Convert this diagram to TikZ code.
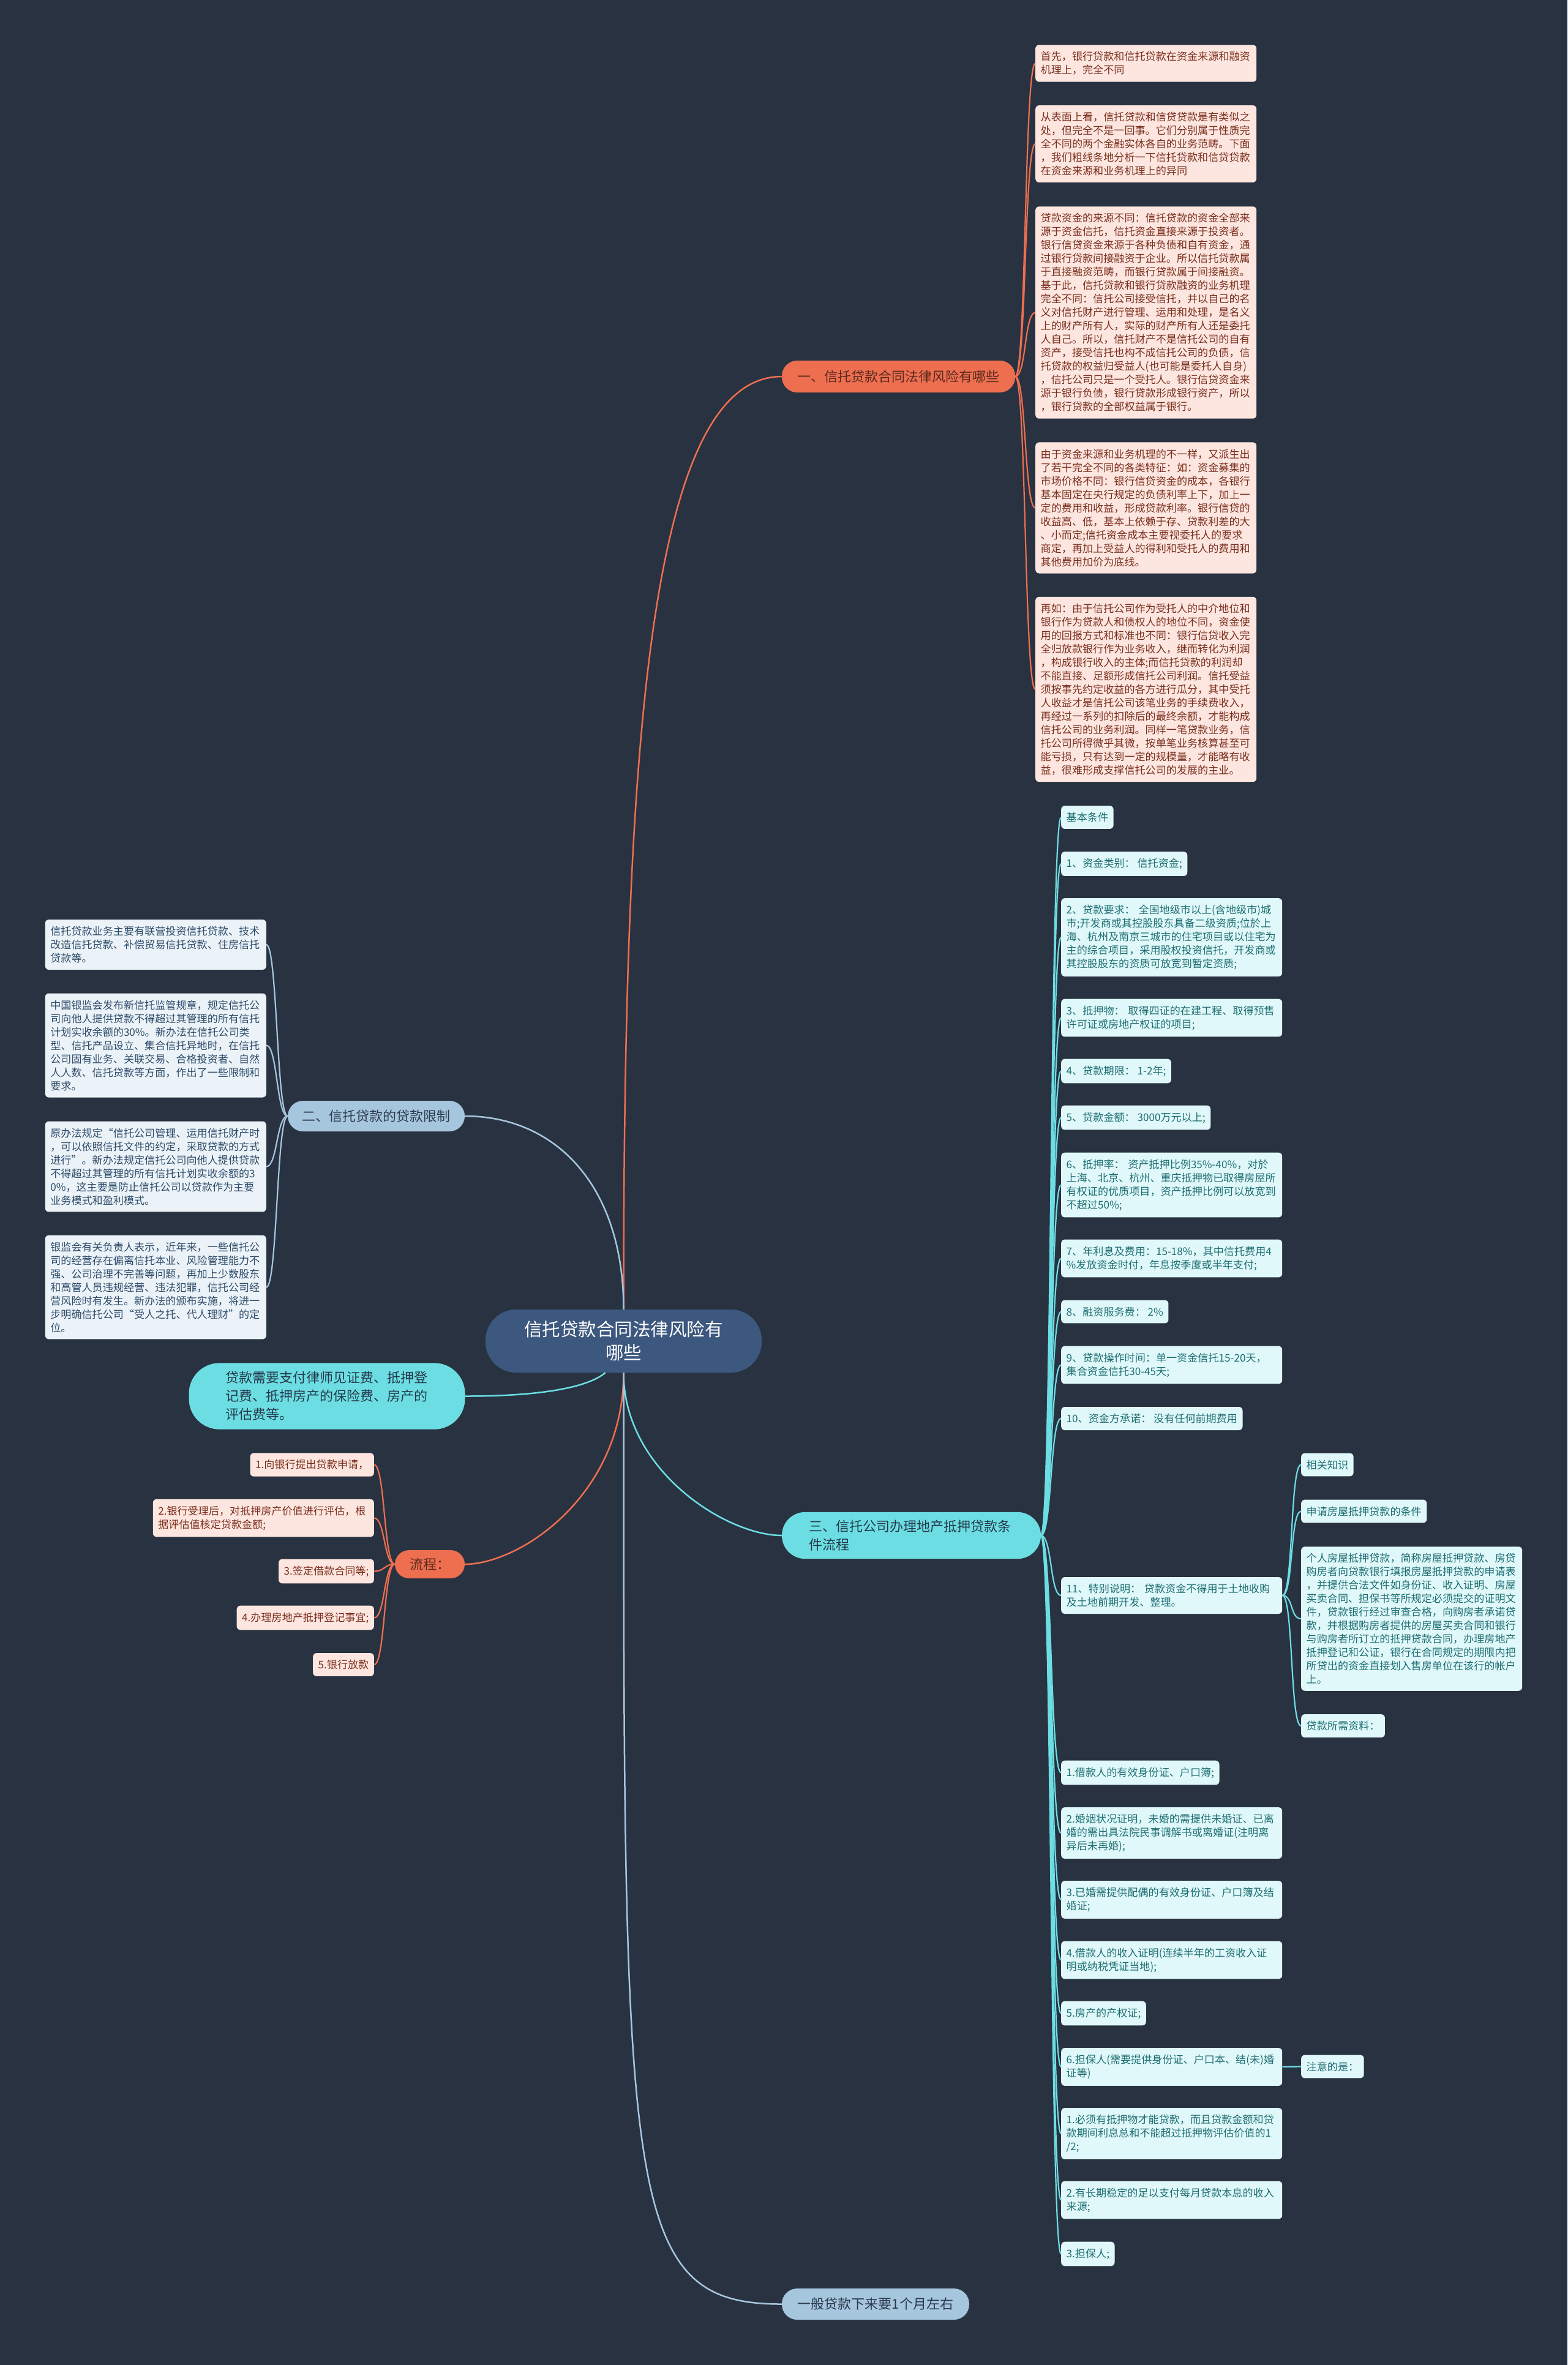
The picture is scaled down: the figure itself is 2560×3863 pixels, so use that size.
\documentclass[tikz,border=0pt]{standalone}
\usepackage{fontspec}
\usepackage{tikz}
\usetikzlibrary{positioning, calc}
\newfontfamily\cjk{Noto Sans CJK SC}
\definecolor{night}{HTML}{293241}
\definecolor{rootfill}{HTML}{3D587E}
\definecolor{coral}{HTML}{EE6F50}
\definecolor{coraltext}{HTML}{5A2A1E}
\definecolor{blush}{HTML}{FDE6E0}
\definecolor{blushtext}{HTML}{7A2E1C}
\definecolor{sky}{HTML}{A6C6DE}
\definecolor{skytext}{HTML}{2B3A4C}
\definecolor{mist}{HTML}{ECF3F8}
\definecolor{misttext}{HTML}{2D4B69}
\definecolor{aqua}{HTML}{6CDEE3}
\definecolor{aquatext}{HTML}{25394A}
\definecolor{foam}{HTML}{E0F8F9}
\definecolor{foamtext}{HTML}{1E6E73}
\newcommand{\leafsize}{\fontsize{17.1pt}{22pt}\selectfont}
\newcommand{\topicsize}{\fontsize{22pt}{30pt}\selectfont}

\begin{document}
\begin{tikzpicture}[x=1pt, y=-1pt, font=\cjk,
  root/.style={rectangle, rounded corners=50pt, fill=rootfill, text=white, align=center, minimum width=451pt, minimum height=103pt, font=\cjk\fontsize{29.5pt}{38pt}\selectfont},
  topic/.style={rectangle, rounded corners=25pt, inner xsep=0pt, align=center, minimum height=52pt, font=\cjk\topicsize},
  leaf/.style={rectangle, rounded corners=6pt, inner xsep=8.5pt, inner ysep=11pt, align=left, font=\cjk\leafsize},
  wide/.style={text width=344pt},
  leafA/.style={leaf, fill=blush, text=blushtext},
  leafB/.style={leaf, fill=mist, text=misttext},
  leafC/.style={leaf, fill=foam, text=foamtext},
  wireA/.style={draw=coral, line width=2.2pt},
  wireB/.style={draw=sky, line width=2.2pt},
  wireC/.style={draw=aqua, line width=2.2pt},
  twig/.style={to path={.. controls +(18,0) and +(-18,0) .. (\tikztotarget)}},
  twigL/.style={to path={.. controls +(-18,0) and +(18,0) .. (\tikztotarget)}}
]
  \fill[night] (0,0) rectangle (2560,3863);

  % centre and main topics
  \node[root] (hub) at (1018.5,2190.5) {信托贷款合同法律风险有\\哪些};
  \node[topic, fill=coral, text=coraltext, minimum width=381pt] (risk) at (1467.5,615) {一、信托贷款合同法律风险有哪些};
  \node[topic, fill=sky, text=skytext, minimum width=289pt, minimum height=50pt] (limit) at (614.5,1823) {二、信托贷款的贷款限制};
  \node[topic, fill=aqua, text=aquatext, align=left, text width=335pt, inner xsep=44pt, inner ysep=13pt, rounded corners=38pt] (flow) at (1488.5,2508) {三、信托公司办理地产抵押贷款条\\件流程};
  \node[topic, fill=aqua, text=aquatext, align=left, text width=331pt, inner xsep=60pt, inner ysep=14pt, rounded corners=50pt] (fees) at (534,2280.5) {贷款需要支付律师见证费、抵押登\\记费、抵押房产的保险费、房产的\\评估费等。};
  \node[topic, fill=coral, text=coraltext, minimum width=114pt, minimum height=46pt, rounded corners=23pt] (steps) at (702,2555) {流程：};
  \node[topic, fill=sky, text=skytext, minimum width=306pt, minimum height=51pt] (month) at (1430,3763.5) {一般贷款下来要1个月左右};

  % branch one
  \node[leafA, wide, anchor=west] (r1) at (1691,103.5) {首先，银行贷款和信托贷款在资金来源和融资\\机理上，完全不同};
  \node[leafA, wide, anchor=west] (r2) at (1691,235) {从表面上看，信托贷款和信贷贷款是有类似之\\处，但完全不是一回事。它们分别属于性质完\\全不同的两个金融实体各自的业务范畴。下面\\，我们粗线条地分析一下信托贷款和信贷贷款\\在资金来源和业务机理上的异同};
  \node[leafA, wide, anchor=west] (r3) at (1691,510.5) {贷款资金的来源不同：信托贷款的资金全部来\\源于资金信托，信托资金直接来源于投资者。\\银行信贷资金来源于各种负债和自有资金，通\\过银行贷款间接融资于企业。所以信托贷款属\\于直接融资范畴，而银行贷款属于间接融资。\\基于此，信托贷款和银行贷款融资的业务机理\\完全不同：信托公司接受信托，并以自己的名\\义对信托财产进行管理、运用和处理，是名义\\上的财产所有人，实际的财产所有人还是委托\\人自己。所以，信托财产不是信托公司的自有\\资产，接受信托也构不成信托公司的负债，信\\托贷款的权益归受益人(也可能是委托人自身)\\，信托公司只是一个受托人。银行信贷资金来\\源于银行负债，银行贷款形成银行资产，所以\\，银行贷款的全部权益属于银行。};
  \node[leafA, wide, anchor=west] (r4) at (1691,829.5) {由于资金来源和业务机理的不一样，又派生出\\了若干完全不同的各类特征：如：资金募集的\\市场价格不同：银行信贷资金的成本，各银行\\基本固定在央行规定的负债利率上下，加上一\\定的费用和收益，形成贷款利率。银行信贷的\\收益高、低，基本上依赖于存、贷款利差的大\\、小而定;信托资金成本主要视委托人的要求\\商定，再加上受益人的得利和受托人的费用和\\其他费用加价为底线。};
  \node[leafA, wide, anchor=west] (r5) at (1691,1126) {再如：由于信托公司作为受托人的中介地位和\\银行作为贷款人和债权人的地位不同，资金使\\用的回报方式和标准也不同：银行信贷收入完\\全归放款银行作为业务收入，继而转化为利润\\，构成银行收入的主体;而信托贷款的利润却\\不能直接、足额形成信托公司利润。信托受益\\须按事先约定收益的各方进行瓜分，其中受托\\人收益才是信托公司该笔业务的手续费收入，\\再经过一系列的扣除后的最终余额，才能构成\\信托公司的业务利润。同样一笔贷款业务，信\\托公司所得微乎其微，按单笔业务核算甚至可\\能亏损，只有达到一定的规模量，才能略有收\\益，很难形成支撑信托公司的发展的主业。};

  % branch two
  \node[leafB, wide, anchor=east] (l1) at (435,1543) {信托贷款业务主要有联营投资信托贷款、技术\\改造信托贷款、补偿贸易信托贷款、住房信托\\贷款等。};
  \node[leafB, wide, anchor=east] (l2) at (435,1707.5) {中国银监会发布新信托监管规章，规定信托公\\司向他人提供贷款不得超过其管理的所有信托\\计划实收余额的30\%。新办法在信托公司类\\型、信托产品设立、集合信托异地时，在信托\\公司固有业务、关联交易、合格投资者、自然\\人人数、信托贷款等方面，作出了一些限制和\\要求。};
  \node[leafB, wide, anchor=east] (l3) at (435,1905.5) {原办法规定“信托公司管理、运用信托财产时\\，可以依照信托文件的约定，采取贷款的方式\\进行”。新办法规定信托公司向他人提供贷款\\不得超过其管理的所有信托计划实收余额的3\\0\%，这主要是防止信托公司以贷款作为主要\\业务模式和盈利模式。};
  \node[leafB, wide, anchor=east] (l4) at (435,2102.5) {银监会有关负责人表示，近年来，一些信托公\\司的经营存在偏离信托本业、风险管理能力不\\强、公司治理不完善等问题，再加上少数股东\\和高管人员违规经营、违法犯罪，信托公司经\\营风险时有发生。新办法的颁布实施，将进一\\步明确信托公司“受人之托、代人理财”的定\\位。};

  % branch three
  \node[leafC, anchor=west] (s0) at (1733,1335) {基本条件};
  \node[leafC, anchor=west] (s1) at (1733,1411) {1、资金类别： 信托资金;};
  \node[leafC, wide, anchor=west] (s2) at (1733,1531) {2、贷款要求： 全国地级市以上(含地级市)城\\市;开发商或其控股股东具备二级资质;位於上\\海、杭州及南京三城市的住宅项目或以住宅为\\主的综合项目，采用股权投资信托，开发商或\\其控股股东的资质可放宽到暂定资质;};
  \node[leafC, wide, anchor=west] (s3) at (1733,1662.5) {3、抵押物： 取得四证的在建工程、取得预售\\许可证或房地产权证的项目;};
  \node[leafC, anchor=west] (s4) at (1733,1749.5) {4、贷款期限： 1-2年;};
  \node[leafC, anchor=west] (s5) at (1733,1825.5) {5、贷款金额： 3000万元以上;};
  \node[leafC, wide, anchor=west] (s6) at (1733,1935.5) {6、抵押率： 资产抵押比例35\%-40\%，对於\\上海、北京、杭州、重庆抵押物已取得房屋所\\有权证的优质项目，资产抵押比例可以放宽到\\不超过50\%;};
  \node[leafC, wide, anchor=west] (s7) at (1733,2055.5) {7、年利息及费用：15-18\%，其中信托费用4\\\%发放资金时付，年息按季度或半年支付;};
  \node[leafC, anchor=west] (s8) at (1733,2142.5) {8、融资服务费： 2\%};
  \node[leafC, wide, anchor=west] (s9) at (1733,2229.5) {9、贷款操作时间：单一资金信托15-20天，\\集合资金信托30-45天;};
  \node[leafC, anchor=west] (s10) at (1733,2317) {10、资金方承诺： 没有任何前期费用};
  \node[leafC, wide, anchor=west] (s11) at (1733,2606) {11、特别说明： 贷款资金不得用于土地收购\\及土地前期开发、整理。};
  \node[leafC, anchor=west] (d1) at (1733,2895.5) {1.借款人的有效身份证、户口簿;};
  \node[leafC, wide, anchor=west] (d2) at (1733,2994) {2.婚姻状况证明，未婚的需提供未婚证、已离\\婚的需出具法院民事调解书或离婚证(注明离\\异后未再婚);};
  \node[leafC, wide, anchor=west] (d3) at (1733,3103) {3.已婚需提供配偶的有效身份证、户口簿及结\\婚证;};
  \node[leafC, wide, anchor=west] (d4) at (1733,3201.5) {4.借款人的收入证明(连续半年的工资收入证\\明或纳税凭证当地);};
  \node[leafC, anchor=west] (d5) at (1733,3288.5) {5.房产的产权证;};
  \node[leafC, wide, anchor=west] (d6) at (1733,3376) {6.担保人(需要提供身份证、户口本、结(未)婚\\证等)};
  \node[leafC, wide, anchor=west] (e1) at (1733,3485) {1.必须有抵押物才能贷款，而且贷款金额和贷\\款期间利息总和不能超过抵押物评估价值的1\\/2;};
  \node[leafC, wide, anchor=west] (e2) at (1733,3593.5) {2.有长期稳定的足以支付每月贷款本息的收入\\来源;};
  \node[leafC, anchor=west] (e3) at (1733,3681.5) {3.担保人;};

  \node[leafC, anchor=west] (k1) at (2125,2392.5) {相关知识};
  \node[leafC, anchor=west] (k2) at (2125,2468.5) {申请房屋抵押贷款的条件};
  \node[leafC, wide, anchor=west] (k3) at (2125,2644) {个人房屋抵押贷款，简称房屋抵押贷款、房贷\\购房者向贷款银行填报房屋抵押贷款的申请表\\，并提供合法文件如身份证、收入证明、房屋\\买卖合同、担保书等所规定必须提交的证明文\\件，贷款银行经过审查合格，向购房者承诺贷\\款，并根据购房者提供的房屋买卖合同和银行\\与购房者所订立的抵押贷款合同，办理房地产\\抵押登记和公证，银行在合同规定的期限内把\\所贷出的资金直接划入售房单位在该行的帐户\\上。};
  \node[leafC, anchor=west] (k4) at (2125,2819) {贷款所需资料：};
  \node[leafC, anchor=west] (n1) at (2125,3375.5) {注意的是：};

  % process steps
  \node[leafA, anchor=east] (p1) at (611,2392.5) {1.向银行提出贷款申请，};
  \node[leafA, wide, anchor=east] (p2) at (611,2479.5) {2.银行受理后，对抵押房产价值进行评估，根\\据评估值核定贷款金额;};
  \node[leafA, anchor=east] (p3) at (611,2566.5) {3.签定借款合同等;};
  \node[leafA, anchor=east] (p4) at (611,2642.5) {4.办理房地产抵押登记事宜;};
  \node[leafA, anchor=east] (p5) at (611,2719) {5.银行放款};

  % links from the centre
  \draw[wireA, line width=2.5pt] (hub.north) .. controls +(0,-900) and +(-220,0) .. (risk.west);
  \draw[wireB, line width=2.5pt] (hub.north) .. controls +(0,-200) and +(150,0) .. (limit.east);
  \draw[wireC, line width=2.5pt] (hub.south) .. controls +(0,160) and +(-90,0) .. (flow.west);
  \draw[wireC, line width=2.5pt] (hub.-120) .. controls +(-30,25) and +(120,0) .. (fees.east);
  \draw[wireA, line width=2.5pt] (hub.south) .. controls +(0,200) and +(90,0) .. (steps.east);
  \draw[wireB, line width=2.5pt] (hub.south) .. controls +(0,1350) and +(-259,0) .. (month.west);

  % links to the leaves
  \foreach \n in {r1,r2,r3,r4,r5}
    \draw[wireA] (risk.east) to[twig] (\n.west);
  \foreach \n in {l1,l2,l3,l4}
    \draw[wireB] (limit.west) to[twigL] (\n.east);
  \foreach \n in {s0,s1,s2,s3,s4,s5,s6,s7,s8,s9,s10,s11,d1,d2,d3,d4,d5,d6,e1,e2,e3}
    \draw[wireC] (flow.east) to[twig] (\n.west);
  \foreach \n in {k1,k2,k3,k4}
    \draw[wireC] (s11.east) to[twig] (\n.west);
  \draw[wireC] (d6.east) -- (n1.west);
  \foreach \n in {p1,p2,p3,p4,p5}
    \draw[wireA] (steps.west) to[twigL] (\n.east);
\end{tikzpicture}
\end{document}
